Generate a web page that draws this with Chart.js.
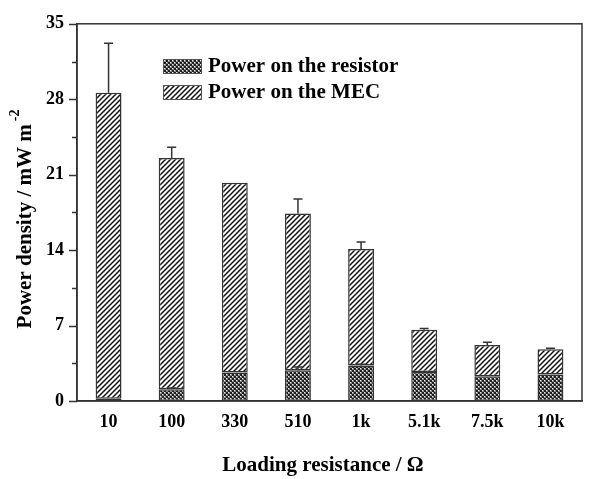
<!DOCTYPE html>
<html>
<head>
<meta charset="utf-8">
<script src="https://cdn.jsdelivr.net/npm/chart.js@4.4.0/dist/chart.umd.min.js"></script>
<style>
  html, body { margin: 0; padding: 0; background: #fff; }
  #wrap { width: 589px; height: 479px; position: relative; }
</style>
</head>
<body>
<div id="wrap"><canvas id="chart" width="589" height="479"></canvas></div>
<script>
// data
const categories = ["10", "100", "330", "510", "1k", "5.1k", "7.5k", "10k"];
const resistorPower = [0.2, 1.1, 2.65, 2.85, 3.3, 2.7, 2.3, 2.45];
const mecPower = [28.4, 21.45, 17.6, 14.55, 10.8, 3.9, 2.9, 2.35]; // stacked on top of resistor
const resistorError = [0, 0.1, 0, 0.3, 0.1, 0, 0, 0];
const mecError = [4.6, 1.0, 0, 1.35, 0.65, 0.12, 0.25, 0.1];
const yTicks = [0, 7, 14, 21, 28, 35];

const FONT = "'Liberation Serif', 'Times New Roman', serif";

function makeHatch() {
  const c = document.createElement("canvas");
  c.width = 5; c.height = 5;
  const g = c.getContext("2d");
  g.fillStyle = "#fff";
  g.fillRect(0, 0, 5, 5);
  g.strokeStyle = "#111";
  g.lineWidth = 1.5;
  g.beginPath();
  g.moveTo(-1, 6); g.lineTo(6, -1);
  g.moveTo(-1, 1); g.lineTo(1, -1);
  g.moveTo(4, 6); g.lineTo(6, 4);
  g.stroke();
  return g.createPattern(c, "repeat");
}

function makeDots() {
  const c = document.createElement("canvas");
  c.width = 4; c.height = 4;
  const g = c.getContext("2d");
  g.fillStyle = "#1e1e1e";
  g.fillRect(0, 0, 4, 4);
  g.fillStyle = "#8a8a8a";
  g.fillRect(0, 0, 2, 2);
  g.fillRect(2, 2, 2, 2);
  g.fillStyle = "#e8e8e8";
  g.fillRect(0, 0, 1, 1);
  g.fillRect(2, 2, 1, 1);
  return g.createPattern(c, "repeat");
}

const hatch = makeHatch();
const dots = makeDots();

const errorBars = {
  id: "errorBars",
  afterDatasetsDraw(chart) {
    const ctx = chart.ctx;
    const y = chart.scales.y;
    const errs = [resistorError, mecError];
    const bases = [resistorPower.map(() => 0), resistorPower];
    ctx.save();
    ctx.strokeStyle = "#333";
    ctx.lineWidth = 1.5;
    chart.data.datasets.forEach((ds, di) => {
      const meta = chart.getDatasetMeta(di);
      meta.data.forEach((bar, i) => {
        const e = errs[di][i];
        if (!e) return;
        const top = bases[di][i] + ds.data[i];
        const y0 = y.getPixelForValue(top);
        const y1 = y.getPixelForValue(top + e);
        ctx.beginPath();
        ctx.moveTo(bar.x, y0);
        ctx.lineTo(bar.x, y1);
        ctx.moveTo(bar.x - 4.5, y1);
        ctx.lineTo(bar.x + 4.5, y1);
        ctx.stroke();
      });
    });
    ctx.restore();
  }
};

const decorations = {
  id: "decorations",
  afterDraw(chart) {
    const ctx = chart.ctx;
    const a = chart.chartArea;
    const y = chart.scales.y;
    ctx.save();
    // frame
    ctx.strokeStyle = "#333";
    ctx.lineWidth = 1.5;
    ctx.strokeRect(a.left, a.top, a.right - a.left, a.bottom - a.top);
    // y ticks, major and minor
    for (let v = 0; v <= 35; v += 3.5) {
      const py = Math.round(y.getPixelForValue(v)) + 0.5;
      const len = yTicks.includes(v) ? 8 : 5;
      ctx.beginPath();
      ctx.moveTo(a.left - len, py);
      ctx.lineTo(a.left, py);
      ctx.stroke();
    }
    // legend
    const items = [
      { label: "Power on the resistor", fill: dots },
      { label: "Power on the MEC", fill: hatch }
    ];
    ctx.font = "bold 21px " + FONT;
    ctx.textBaseline = "middle";
    ctx.textAlign = "left";
    items.forEach((it, i) => {
      const by = 59 + i * 26;
      ctx.fillStyle = it.fill;
      ctx.fillRect(163, by, 39, 15);
      ctx.lineWidth = 1;
      ctx.strokeStyle = "#555";
      ctx.strokeRect(163.5, by + 0.5, 38, 14);
      ctx.fillStyle = "#000";
      ctx.fillText(it.label, 208, by + 8);
    });
    // x title
    ctx.textAlign = "center";
    ctx.font = "bold 21px " + FONT;
    ctx.fillText("Loading resistance / \u03A9", 323, 466);
    // y title with superscript
    ctx.textBaseline = "alphabetic";
    ctx.translate(31, 219);
    ctx.rotate(-Math.PI / 2);
    const main = "Power density / mW m";
    const sup = "-2";
    ctx.font = "bold 21px " + FONT;
    const wMain = ctx.measureText(main).width;
    ctx.font = "bold 14px " + FONT;
    const wSup = ctx.measureText(sup).width;
    const start = -(wMain + wSup + 3) / 2;
    ctx.textAlign = "left";
    ctx.font = "bold 21px " + FONT;
    ctx.fillText(main, start, 0);
    ctx.font = "bold 14px " + FONT;
    ctx.fillText(sup, start + wMain + 3, -12);
    ctx.restore();
  }
};

new Chart(document.getElementById("chart"), {
  type: "bar",
  data: {
    labels: categories,
    datasets: [
      {
        label: "Power on the resistor",
        data: resistorPower,
        backgroundColor: dots,
        borderColor: "#333",
        borderWidth: 1.5,
        borderSkipped: false,
        barPercentage: 0.41,
        categoryPercentage: 1
      },
      {
        label: "Power on the MEC",
        data: mecPower,
        backgroundColor: hatch,
        borderColor: "#333",
        borderWidth: 1.5,
        borderSkipped: false,
        barPercentage: 0.41,
        categoryPercentage: 1
      }
    ]
  },
  options: {
    responsive: false,
    animation: false,
    layout: { padding: { top: 21, right: 7, left: 0, bottom: 0 } },
    plugins: { legend: { display: false }, tooltip: { enabled: false } },
    scales: {
      x: {
        stacked: true,
        grid: { display: false, drawTicks: false },
        border: { display: true, color: "#333", width: 1.5 },
        ticks: { color: "#000", padding: 11, font: { family: FONT, size: 18, weight: "bold" } },
        afterFit(scale) { scale.height = 78; }
      },
      y: {
        stacked: true,
        min: 0,
        max: 35,
        grid: { display: false, drawTicks: false },
        border: { display: true, color: "#333", width: 1.5 },
        afterBuildTicks(scale) { scale.ticks = yTicks.map(v => ({ value: v })); },
        ticks: { color: "#000", padding: 13, font: { family: FONT, size: 18, weight: "bold" } },
        afterFit(scale) { scale.width = 77; }
      }
    }
  },
  plugins: [errorBars, decorations]
});
</script>
</body>
</html>
